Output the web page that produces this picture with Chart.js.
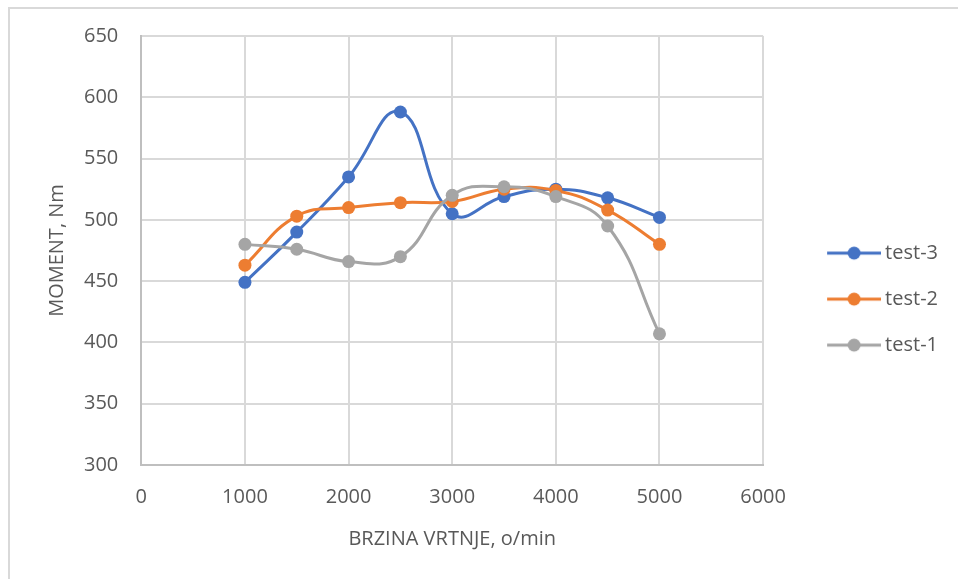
<!DOCTYPE html>
<html>
<head>
<meta charset="utf-8">
<script src="https://cdn.jsdelivr.net/npm/chart.js@4"></script>
<style>
  body { margin: 0; background: #fff; }
  #frame { position: absolute; left: 8px; top: 7px; width: 1000px; height: 1000px; border-left: 2px solid #d9d9d9; border-top: 2px solid #d9d9d9; }
  #wrap { position: absolute; left: 0; top: 0; width: 958px; height: 579px; }
</style>
</head>
<body>
<div id="frame"></div>
<div id="wrap"><canvas id="chart"></canvas></div>
<script>
// rpm values and measured torque
var rpm = [1000, 1500, 2000, 2500, 3000, 3500, 4000, 4500, 5000];
var test1 = [480, 476, 466, 470, 520, 527, 519, 495, 407];
var test2 = [463, 503, 510, 514, 515, 525, 524, 508, 480];
var test3 = [449, 490, 535, 588, 505, 519, 525, 518, 502];

var colors = { "test-1": "#a5a5a5", "test-2": "#ed7d31", "test-3": "#4472c4" };
var font = "'Open Sans', 'DejaVu Sans', sans-serif";
var textColor = "#595959";

// legend marker: a line with a dot in the middle (drawn on the right part of the image)
function marker(color) {
    let c = document.createElement("canvas");
    c.width = 98; c.height = 16;
    let ctx = c.getContext("2d");
    ctx.strokeStyle = color;
    ctx.lineWidth = 3;
    ctx.beginPath(); ctx.moveTo(44, 8); ctx.lineTo(98, 8); ctx.stroke();
    ctx.fillStyle = color;
    ctx.beginPath(); ctx.arc(71, 8, 6.5, 0, Math.PI * 2); ctx.fill();
    return c;
}

function series(label, values) {
    return {
        label: label,
        data: rpm.map((x, i) => ({ x: x, y: values[i] })),
        borderColor: colors[label],
        backgroundColor: colors[label],
        borderWidth: 3,
        pointRadius: 6.5,
        pointHoverRadius: 6.5,
        pointBorderWidth: 0,
        tension: 0.45,
        pointStyle: "circle"
    };
}

new Chart(document.getElementById("chart"), {
    type: "line",
    data: {
        datasets: [series("test-1", test1), series("test-2", test2), series("test-3", test3)]
    },
    options: {
        responsive: true,
        maintainAspectRatio: false,
        animation: false,
        layout: { padding: { top: 36, bottom: 24, right: 10, left: 45 } },
        plugins: {
            tooltip: { enabled: false },
            legend: {
                position: "right",
                title: { display: true, text: "", font: { size: 6 } },
                labels: {
                    usePointStyle: true,
                    pointStyleWidth: 86,
                    padding: 26,
                    color: textColor,
                    font: { family: font, size: 20 },
                    sort: (a, b) => b.datasetIndex - a.datasetIndex,
                    generateLabels: (chart) => chart.data.datasets.map((ds, i) => ({
                        text: ds.label,
                        pointStyle: marker(ds.borderColor),
                        fillStyle: ds.borderColor,
                        strokeStyle: ds.borderColor,
                        lineWidth: 0,
                        fontColor: textColor,
                        datasetIndex: i
                    }))
                }
            }
        },
        scales: {
            x: {
                type: "linear",
                min: 0,
                max: 6000,
                ticks: { stepSize: 1000, padding: 20, color: textColor, font: { family: font, size: 20 }, callback: (v) => String(v) },
                grid: { color: "#d9d9d9", lineWidth: 2, drawTicks: false },
                border: { color: "#bfbfbf", width: 2 },
                title: { display: true, text: "BRZINA VRTNJE, o/min", color: textColor, font: { family: font, size: 20 }, padding: { top: -2 } }
            },
            y: {
                min: 300,
                max: 650,
                ticks: { stepSize: 50, padding: 23, color: textColor, font: { family: font, size: 20 } },
                grid: { color: "#d9d9d9", lineWidth: 2, drawTicks: false },
                border: { color: "#bfbfbf", width: 2 },
                title: { display: true, text: "MOMENT, Nm", color: textColor, font: { family: font, size: 20 }, padding: { top: 0, bottom: -8 } }
            }
        }
    }
});
</script>
</body>
</html>
